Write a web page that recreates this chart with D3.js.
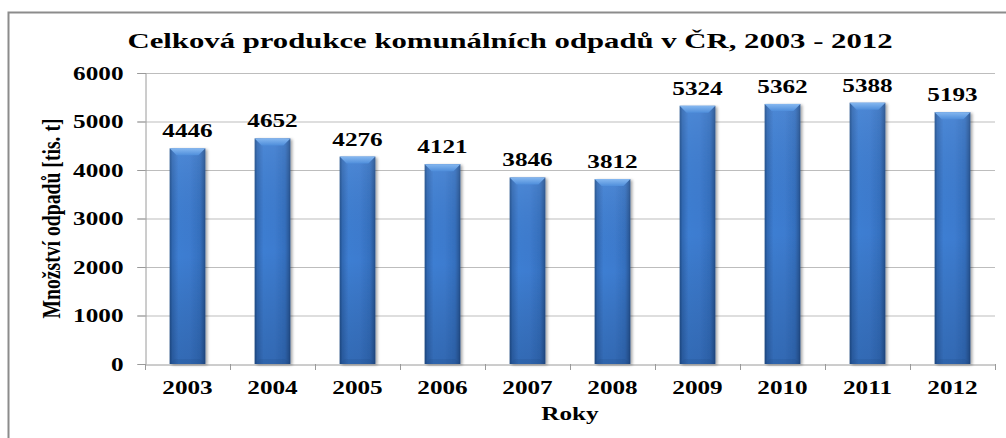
<!DOCTYPE html>
<html><head><meta charset="utf-8">
<script src="https://cdn.jsdelivr.net/npm/d3@7"></script>
<style>
html,body{margin:0;padding:0;background:#fff;}
svg{display:block;}
text{font-family:"Liberation Serif","Times New Roman",serif;font-weight:bold;fill:#000;}
</style></head>
<body>
<svg id="chart" width="1006" height="438"></svg>
<script>
const years = ["2003","2004","2005","2006","2007","2008","2009","2010","2011","2012"];
const values = [4446,4652,4276,4121,3846,3812,5324,5362,5388,5193];
const yTicks = [0,1000,2000,3000,4000,5000,6000];
const titleText = "Celková produkce komunálních odpadů v ČR, 2003 - 2012";
const xTitle = "Roky";
const yTitle = "Množství odpadů [tis. t]";

const svg = d3.select("#chart");
const W = 1006, H = 438;
const m = {left:145, right:11, top:73, bottom:74};
const x = d3.scaleBand().domain(years).range([m.left, W - m.right]).paddingInner(0.58).paddingOuter(0.29);
const xb = d3.scaleBand().domain(years).range([m.left, W - m.right]);
const y = d3.scaleLinear().domain([0,6000]).range([H - m.bottom, m.top]);

const STRETCH = 1.4;
function stretch(sel, k){
  sel.each(function(){
    const w = this.getComputedTextLength();
    d3.select(this).attr("textLength", w*k).attr("lengthAdjust","spacingAndGlyphs");
  });
}

// outer border
svg.append("rect").attr("x",8.5).attr("y",12.5).attr("width",1010).attr("height",440)
  .attr("fill","none").attr("stroke","#8c8c8c").attr("stroke-width",2);

// defs
const defs = svg.append("defs");
const gh = defs.append("linearGradient").attr("id","barH").attr("x1","0").attr("x2","1").attr("y1","0").attr("y2","0");
[[0,"#22508c"],[0.08,"#3169b4"],[0.25,"#3e7ed2"],[0.55,"#3d7cd0"],[0.85,"#3570bf"],[0.95,"#2a5c9f"],[1,"#204a86"]]
  .forEach(s=>gh.append("stop").attr("offset",s[0]).attr("stop-color",s[1]));
const gv = defs.append("linearGradient").attr("id","barV").attr("x1","0").attr("x2","0").attr("y1","0").attr("y2","1");
[[0,"#ffffff",0.08],[0.5,"#000000",0.0],[1,"#001030",0.18]]
  .forEach(s=>gv.append("stop").attr("offset",s[0]).attr("stop-color",s[1]).attr("stop-opacity",s[2]));
const gc = defs.append("linearGradient").attr("id","cap").attr("x1","0").attr("x2","0").attr("y1","0").attr("y2","1");
[[0,"#86b8f0"],[1,"#4f8edb"]].forEach(s=>gc.append("stop").attr("offset",s[0]).attr("stop-color",s[1]));
const sh = defs.append("filter").attr("id","shadow").attr("x","-20%").attr("y","-5%").attr("width","150%").attr("height","115%");
sh.append("feGaussianBlur").attr("in","SourceAlpha").attr("stdDeviation",1.5);
sh.append("feOffset").attr("dx",2).attr("dy",1).attr("result","b");
sh.append("feComponentTransfer").append("feFuncA").attr("type","linear").attr("slope",0.35);
const mg = sh.append("feMerge"); mg.append("feMergeNode"); mg.append("feMergeNode").attr("in","SourceGraphic");

// gridlines
svg.append("g").selectAll("line").data(yTicks.filter(t=>t>0)).join("line")
  .attr("x1",m.left-8).attr("x2",W-m.right).attr("y1",d=>y(d)+0.5).attr("y2",d=>y(d)+0.5)
  .attr("stroke","#bdbdbd").attr("stroke-width",1);

// y axis
const yAxis = svg.append("g").attr("transform",`translate(${m.left+0.5},0)`)
  .call(d3.axisLeft(y).tickValues(yTicks).tickSize(8).tickPadding(14).tickFormat(d3.format("d")));
yAxis.select(".domain").attr("stroke","#9a9a9a");
yAxis.selectAll(".tick line").attr("stroke","#9a9a9a");
yAxis.selectAll("text").attr("font-size",18).attr("font-family","Liberation Serif").attr("font-weight","bold").attr("fill","#000").attr("dy","0.34em");
stretch(yAxis.selectAll("text"), STRETCH);

// x axis
const xAxis = svg.append("g").attr("transform",`translate(0,${y(0)+0.5})`)
  .call(d3.axisBottom(xb).tickSize(0).tickPadding(17));
xAxis.select(".domain").attr("stroke","#9a9a9a");
xAxis.selectAll("text").attr("font-size",18).attr("font-family","Liberation Serif").attr("font-weight","bold").attr("fill","#000");
stretch(xAxis.selectAll("text"), STRETCH);
// category boundary ticks
svg.append("g").selectAll("line").data(years).join("line")
  .attr("x1",d=>xb(d)+xb.bandwidth()+0.5).attr("x2",d=>xb(d)+xb.bandwidth()+0.5)
  .attr("y1",y(0)).attr("y2",y(0)+6).attr("stroke","#9a9a9a");
svg.append("line").attr("x1",m.left+0.5).attr("x2",m.left+0.5).attr("y1",y(0)).attr("y2",y(0)+6).attr("stroke","#9a9a9a");

// bars
const data = years.map((yr,i)=>({yr, v:values[i]}));
const bars = svg.append("g").selectAll("g").data(data).join("g");
bars.append("rect").attr("x",d=>x(d.yr)).attr("y",d=>y(d.v)).attr("width",x.bandwidth())
  .attr("height",d=>y(0)-y(d.v)).attr("fill","url(#barH)").attr("filter","url(#shadow)");
bars.append("rect").attr("x",d=>x(d.yr)).attr("y",d=>y(d.v)).attr("width",x.bandwidth())
  .attr("height",d=>y(0)-y(d.v)).attr("fill","url(#barV)");
const bev = 7;
bars.append("path").attr("d",d=>{
  const x0=x(d.yr), x1=x0+x.bandwidth(), t=y(d.v);
  return `M${x0},${t}L${x1},${t}L${x1-bev},${t+bev}L${x0+bev},${t+bev}Z`;
}).attr("fill","url(#cap)");
bars.append("path").attr("d",d=>{
  const x0=x(d.yr), x1=x0+x.bandwidth(), b=y(0);
  return `M${x0},${b}L${x1},${b}L${x1-bev+2},${b-bev+2}L${x0+bev-2},${b-bev+2}Z`;
}).attr("fill","#1c447c").attr("opacity",0.15);

// value labels
const vl = svg.append("g").selectAll("text").data(data).join("text")
  .attr("x",d=>x(d.yr)+x.bandwidth()/2).attr("y",d=>y(d.v)-11)
  .attr("text-anchor","middle").attr("font-size",18).text(d=>d.v);
stretch(vl, STRETCH);

// title
svg.append("text").attr("x",510).attr("y",48).attr("text-anchor","middle")
  .attr("font-size",22).attr("textLength",765).attr("lengthAdjust","spacingAndGlyphs").text(titleText);

// x title
const xt = svg.append("text").attr("x",(m.left+W-m.right)/2).attr("y",420).attr("text-anchor","middle")
  .attr("font-size",18).text(xTitle);
stretch(xt, STRETCH);

// y title
const yt = svg.append("text").attr("transform",`translate(60,${(y(0)+y(6000))/2}) scale(1.25,1) rotate(-90)`)
  .attr("text-anchor","middle").attr("font-size",20).text(yTitle);
yt.attr("textLength",200).attr("lengthAdjust","spacingAndGlyphs");
</script>
</body></html>
